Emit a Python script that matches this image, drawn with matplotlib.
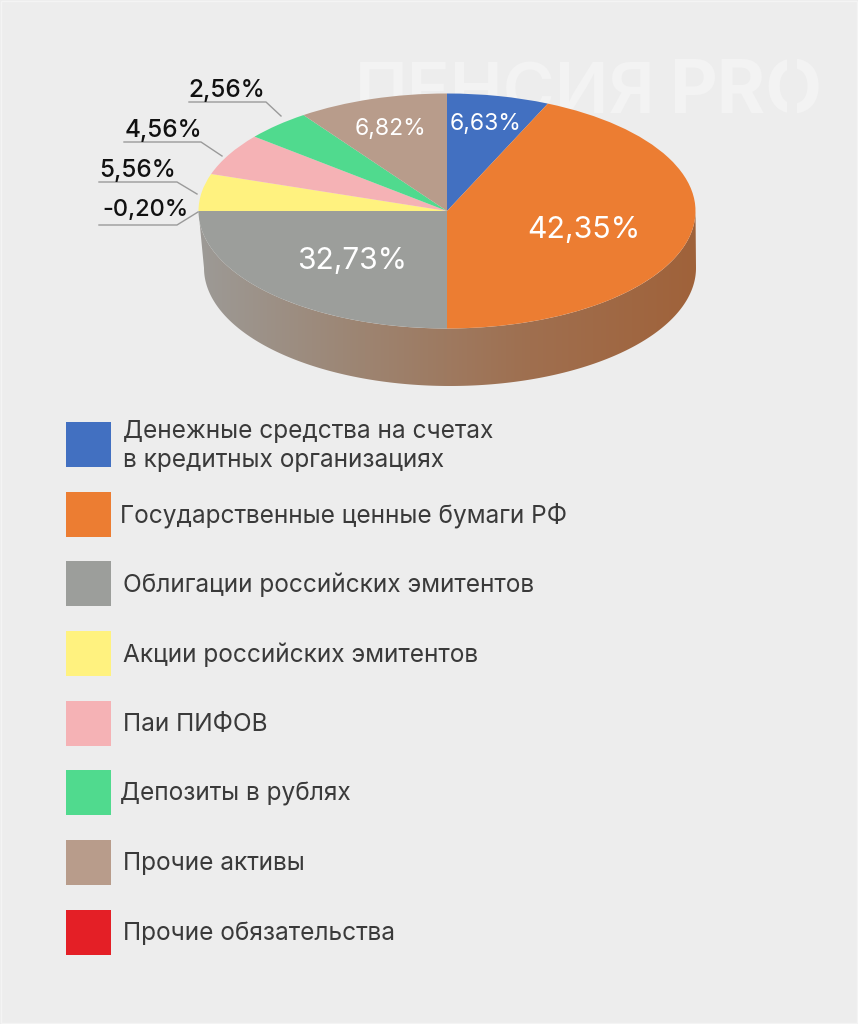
import numpy as np
import matplotlib
matplotlib.use("Agg")
import matplotlib.pyplot as plt
from matplotlib.colors import LinearSegmentedColormap
from matplotlib.patches import Polygon, Rectangle

plt.rcParams['font.family'] = ['Inter', 'DejaVu Sans']

W, H = 858, 1024
BG = "#ededed"

# slice sizes as drawn (the printed labels do not match the drawn angles)
drawn_sizes = [6.65, 43.35, 25.0, 5.1, 5.8, 4.3, 9.8]
colors = ["#4270c1", "#ec7d32", "#9c9e9b", "#fff27f", "#f5b2b5", "#50da8e", "#b89c8b", "#e41f26"]
legend_names = ["Денежные средства на счетах\nв кредитных организациях",
                "Государственные ценные бумаги РФ",
                "Облигации российских эмитентов",
                "Акции российских эмитентов",
                "Паи ПИФОВ",
                "Депозиты в рублях",
                "Прочие активы",
                "Прочие обязательства"]
inner_labels = ["6,63%", "42,35%", "32,73%", "6,82%"]
outer_labels = ["2,56%", "4,56%", "5,56%", "-0,20%"]


def px(x, y):
    return x / W, 1 - y / H


fig = plt.figure(figsize=(W / 100, H / 100), dpi=100, facecolor=BG)

# pixel coordinates for everything around the pie
ax = fig.add_axes([0, 0, 1, 1], zorder=0)
ax.set_xlim(0, W)
ax.set_ylim(H, 0)
ax.axis("off")

ax.add_patch(Rectangle((0.5, 0.5), W - 1.5, H - 2, fill=False, ec="#f4f4f4", lw=1))

# watermark, the O of PRO has a break at top and bottom
ax.text(355, 113, "ПЕНСИЯ", color="#f3f3f3", fontsize=51, fontweight="semibold", va="baseline", ha="left")
ax.text(669, 113, "PRO", color="#f3f3f3", fontsize=53, fontweight="bold", va="baseline", ha="left")
ax.add_patch(Rectangle((787, 56), 10, 17, fc=BG, ec="none", zorder=4))
ax.add_patch(Rectangle((787, 101), 10, 17, fc=BG, ec="none", zorder=4))

# side of the pie, gradient clipped to the shape between both ellipses
t = np.linspace(0, np.pi, 200)
top_arc = np.column_stack([447 + 248.5 * np.cos(t), 211 + 117.5 * np.sin(t)])
bottom_arc = np.column_stack([450 + 246 * np.cos(t[::-1]), 268 + 118 * np.sin(t[::-1])])
rim = Polygon(np.vstack([top_arc, bottom_arc]), transform=ax.transData, fc="none", ec="none")
ax.add_patch(rim)
rim_cmap = LinearSegmentedColormap.from_list("rim", ["#9c9a96", "#9d8471", "#9f6f4f", "#a0623a"])
im = ax.imshow(np.linspace(0, 1, 256).reshape(1, -1), cmap=rim_cmap, extent=(199, 696, 390, 205), aspect="auto")
im.set_clip_path(rim)
ax.set_xlim(0, W)
ax.set_ylim(H, 0)

# leader lines
leaders = [([189, 266, 281], [102, 102, 116]),
           ([124, 201, 222], [142, 142, 156]),
           ([99, 177, 197], [182, 182, 194]),
           ([99, 177, 198], [225, 225, 212])]
for xs, ys in leaders:
    ax.plot(xs, ys, color="#9a9a9a", lw=1)

# legend
legend_y = [422, 492, 561, 631, 701, 770, 840, 910]
legend_text_x = [123, 120, 123, 123, 123, 120, 123, 123]
for i, name in enumerate(legend_names):
    ax.add_patch(Rectangle((65.5, legend_y[i]), 45, 45, fc=colors[i], ec="none"))
    ty = legend_y[i] + 23.5
    if "\n" in name:
        ty += 0.5
    ax.text(legend_text_x[i], ty, name, color="#3a3a3a", fontsize=17.6,
            va="center", ha="left", linespacing=1.33)

# the pie itself, squashed to an ellipse by its axes
ax_pie = fig.add_axes([198.5 / W, 1 - 328.5 / H, 497 / W, 235 / H], zorder=1)
wedges, _ = ax_pie.pie(drawn_sizes, colors=colors[:7], startangle=90, counterclock=False, radius=1,
                       wedgeprops={"linewidth": 0, "clip_on": False})
ax_pie.set_aspect("auto")
ax_pie.set_xlim(-1, 1)
ax_pie.set_ylim(-1, 1)

inner_pos = [(486, 124), (584, 230), (352, 261), (391, 129)]
inner_size = [16.5, 21.8, 21.5, 16.5]
for s, (x, y), fs in zip(inner_labels, inner_pos, inner_size):
    fig.text(*px(x, y), s, color="white", fontsize=fs, ha="center", va="center", zorder=5)

outer_pos = [(227, 90), (163, 130), (138, 170), (145, 210)]
outer_size = [17.5, 17.5, 17.5, 17]
for s, (x, y), fs in zip(outer_labels, outer_pos, outer_size):
    fig.text(*px(x, y), s, color="#111111", fontsize=fs, fontweight="medium", ha="center", va="center", zorder=5)

fig.savefig("out.png", dpi=100, facecolor=BG)
